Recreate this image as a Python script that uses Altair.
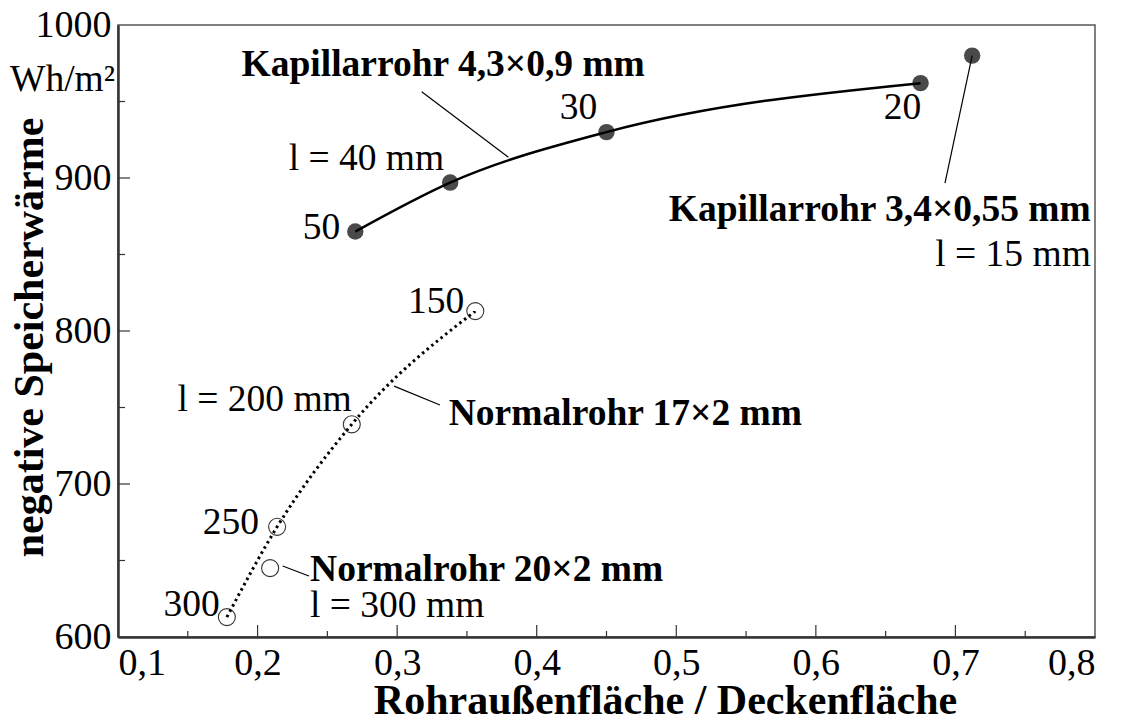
import altair as alt
import pandas as pd

# ---------------- data ----------------
kap_x = [0.270, 0.338, 0.450, 0.675]          # Kapillarrohr 4,3x0,9 mm
kap_y = [865, 897, 930, 962]
kap_lbl = ["50", "l = 40 mm", "30", "20"]

kap15_x = [0.712]                              # Kapillarrohr 3,4x0,55 mm, l = 15 mm
kap15_y = [980]

n17_x = [0.178, 0.214, 0.2675, 0.356]          # Normalrohr 17x2 mm
n17_y = [613, 672, 739, 813]
n17_lbl = ["300", "250", "l = 200 mm", "150"]

n20_x = [0.209]                                # Normalrohr 20x2 mm, l = 300 mm
n20_y = [645]

x_tick_labels = [0.1, 0.2, 0.3, 0.4, 0.5, 0.6, 0.7, 0.8]
y_tick_labels = [600, 700, 800, 900, 1000]
x_major = [0.2, 0.3, 0.4, 0.5, 0.6, 0.7]
x_minor = [0.15, 0.25, 0.35, 0.45, 0.55, 0.65, 0.75]
y_major = [700, 800, 900]
y_minor = [650, 750, 850, 950]

# callout annotations (text, x, y, bold, align)
callouts = [
    ("Kapillarrohr 4,3×0,9 mm", 0.333, 974, "bold", "center"),
    ("Kapillarrohr 3,4×0,55 mm", 0.797, 879, "bold", "right"),
    ("l = 15 mm", 0.797, 850, "normal", "right"),
    ("Normalrohr 17×2 mm", 0.337, 746, "bold", "left"),
    ("Normalrohr 20×2 mm", 0.2376, 644, "bold", "left"),
    ("l = 300 mm", 0.2376, 620, "normal", "left"),
]
# leader lines (x1, y1, x2, y2)
leaders = [
    (0.3176, 956.4, 0.3797, 913.5),
    (0.712, 980.0, 0.6925, 896.7),
    (0.2978, 764.0, 0.3307, 751.6),
    (0.2180, 646.4, 0.2368, 639.9),
]

W, H = 977, 612
FONT = "Liberation Serif"
FS = 37.5
FS_TICK = 38

xs = alt.Scale(domain=[0.1, 0.8], nice=False, zero=False)
ys = alt.Scale(domain=[600, 1000], nice=False, zero=False)

kap = pd.DataFrame({"x": kap_x, "y": kap_y, "t": kap_lbl})
k15 = pd.DataFrame({"x": kap15_x, "y": kap15_y})
n17 = pd.DataFrame({"x": n17_x, "y": n17_y, "t": n17_lbl})
n20 = pd.DataFrame({"x": n20_x, "y": n20_y})
base_df = pd.DataFrame({"x": [0.1], "y": [600]})

X = alt.X("x:Q", scale=xs, axis=alt.Axis(
    values=x_tick_labels, labelExpr="replace(format(datum.value, '.1f'), '.', ',')",
    title="Rohraußenfläche / Deckenfläche", titleX=547, titleY=63, titleFontSize=42,
    titleBaseline="middle", titleAlign="center"))
Y = alt.Y("y:Q", scale=ys, axis=alt.Axis(
    values=y_tick_labels, labelExpr="format(datum.value, 'd')",
    title="negative Speicherwärme", titleX=-89, titleY=312, titleAngle=270, titleFontSize=42,
    titleBaseline="middle", titleAlign="center"))

axes_layer = alt.Chart(base_df).mark_point(opacity=0).encode(x=X, y=Y)

def xs_enc():
    return alt.X("x:Q", scale=xs)

def ys_enc():
    return alt.Y("y:Q", scale=ys)

# inward ticks
def xtick(vals, length):
    return alt.Chart(pd.DataFrame({"x": vals})).mark_rule(color="#333", strokeWidth=1.2).encode(
        x=xs_enc(), y=alt.value(H), y2=alt.value(H - length))

def ytick(vals, length):
    return alt.Chart(pd.DataFrame({"y": vals})).mark_rule(color="#333", strokeWidth=1.2).encode(
        y=ys_enc(), x=alt.value(0), x2=alt.value(length))

ticks = [xtick(x_major, 12), xtick(x_minor, 6), ytick(y_major, 12), ytick(y_minor, 7)]

pts_filled = alt.Chart(pd.concat([kap[["x", "y"]], k15])).mark_point(
    filled=True, shape="circle", size=270, color="#4a4a4a", opacity=1).encode(x=xs_enc(), y=ys_enc())
pts_open = alt.Chart(pd.concat([n17[["x", "y"]], n20])).mark_point(
    filled=False, shape="circle", size=290, color="#333", strokeWidth=1.1, opacity=1).encode(x=xs_enc(), y=ys_enc())

line_kap = alt.Chart(kap).mark_line(color="black", strokeWidth=2.5, interpolate="monotone").encode(
    x=xs_enc(), y=ys_enc())
line_n17 = alt.Chart(n17).mark_line(color="black", strokeWidth=3, strokeDash=[2.5, 3.5],
                                    interpolate="monotone").encode(x=xs_enc(), y=ys_enc())

# point labels
def plabel(df, idx, align, dx, dy):
    return alt.Chart(df.iloc[[idx]]).mark_text(
        font=FONT, fontSize=FS, align=align, baseline="middle", dx=dx, dy=dy, color="black").encode(
        x=xs_enc(), y=ys_enc(), text="t:N")

plabels = [
    plabel(kap, 0, "right", -15, -4),
    plabel(kap, 1, "right", -6, -24),
    plabel(kap, 2, "center", -28, -24),
    plabel(kap, 3, "center", -18, 25),
    plabel(n17, 0, "right", -7, -12),
    plabel(n17, 1, "right", -18, -4),
    plabel(n17, 2, "right", 0, -24),
    plabel(n17, 3, "right", -11, -9),
]

co_layers = []
for t, x, y, wt, al in callouts:
    co_layers.append(alt.Chart(pd.DataFrame({"x": [x], "y": [y], "t": [t]})).mark_text(
        font=FONT, fontSize=FS, fontWeight=wt, align=al, baseline="middle", color="black").encode(
        x=xs_enc(), y=ys_enc(), text="t:N"))

ld = pd.DataFrame(leaders, columns=["x", "y", "x2", "y2"])
leader_layer = alt.Chart(ld).mark_rule(color="black", strokeWidth=1.2).encode(
    x=xs_enc(), y=ys_enc(), x2="x2:Q", y2="y2:Q")

unit = alt.Chart(base_df).mark_text(font=FONT, fontSize=FS, align="right", baseline="middle",
                                    color="black", text="Wh/m²").encode(
    x=alt.value(-3), y=alt.value(55))

chart = alt.layer(
    axes_layer, *ticks, pts_filled, pts_open, line_kap, line_n17, leader_layer,
    *plabels, *co_layers, unit
).properties(
    width=W, height=H,
    autosize=alt.AutoSizeParams(type="none"),
    padding={"left": 110, "top": 17, "right": 22, "bottom": 81},
).configure_view(
    stroke="#555", strokeWidth=1.5
).configure_axis(
    labelFont=FONT, labelFontSize=FS_TICK, labelColor="black",
    titleFont=FONT, titleFontWeight="bold", titleColor="black",
    tickSize=0, grid=False, domainColor="#333", domainWidth=2.5, labelPadding=7,
)

chart.save("out.html", embed_options={"renderer": "svg", "actions": False})
